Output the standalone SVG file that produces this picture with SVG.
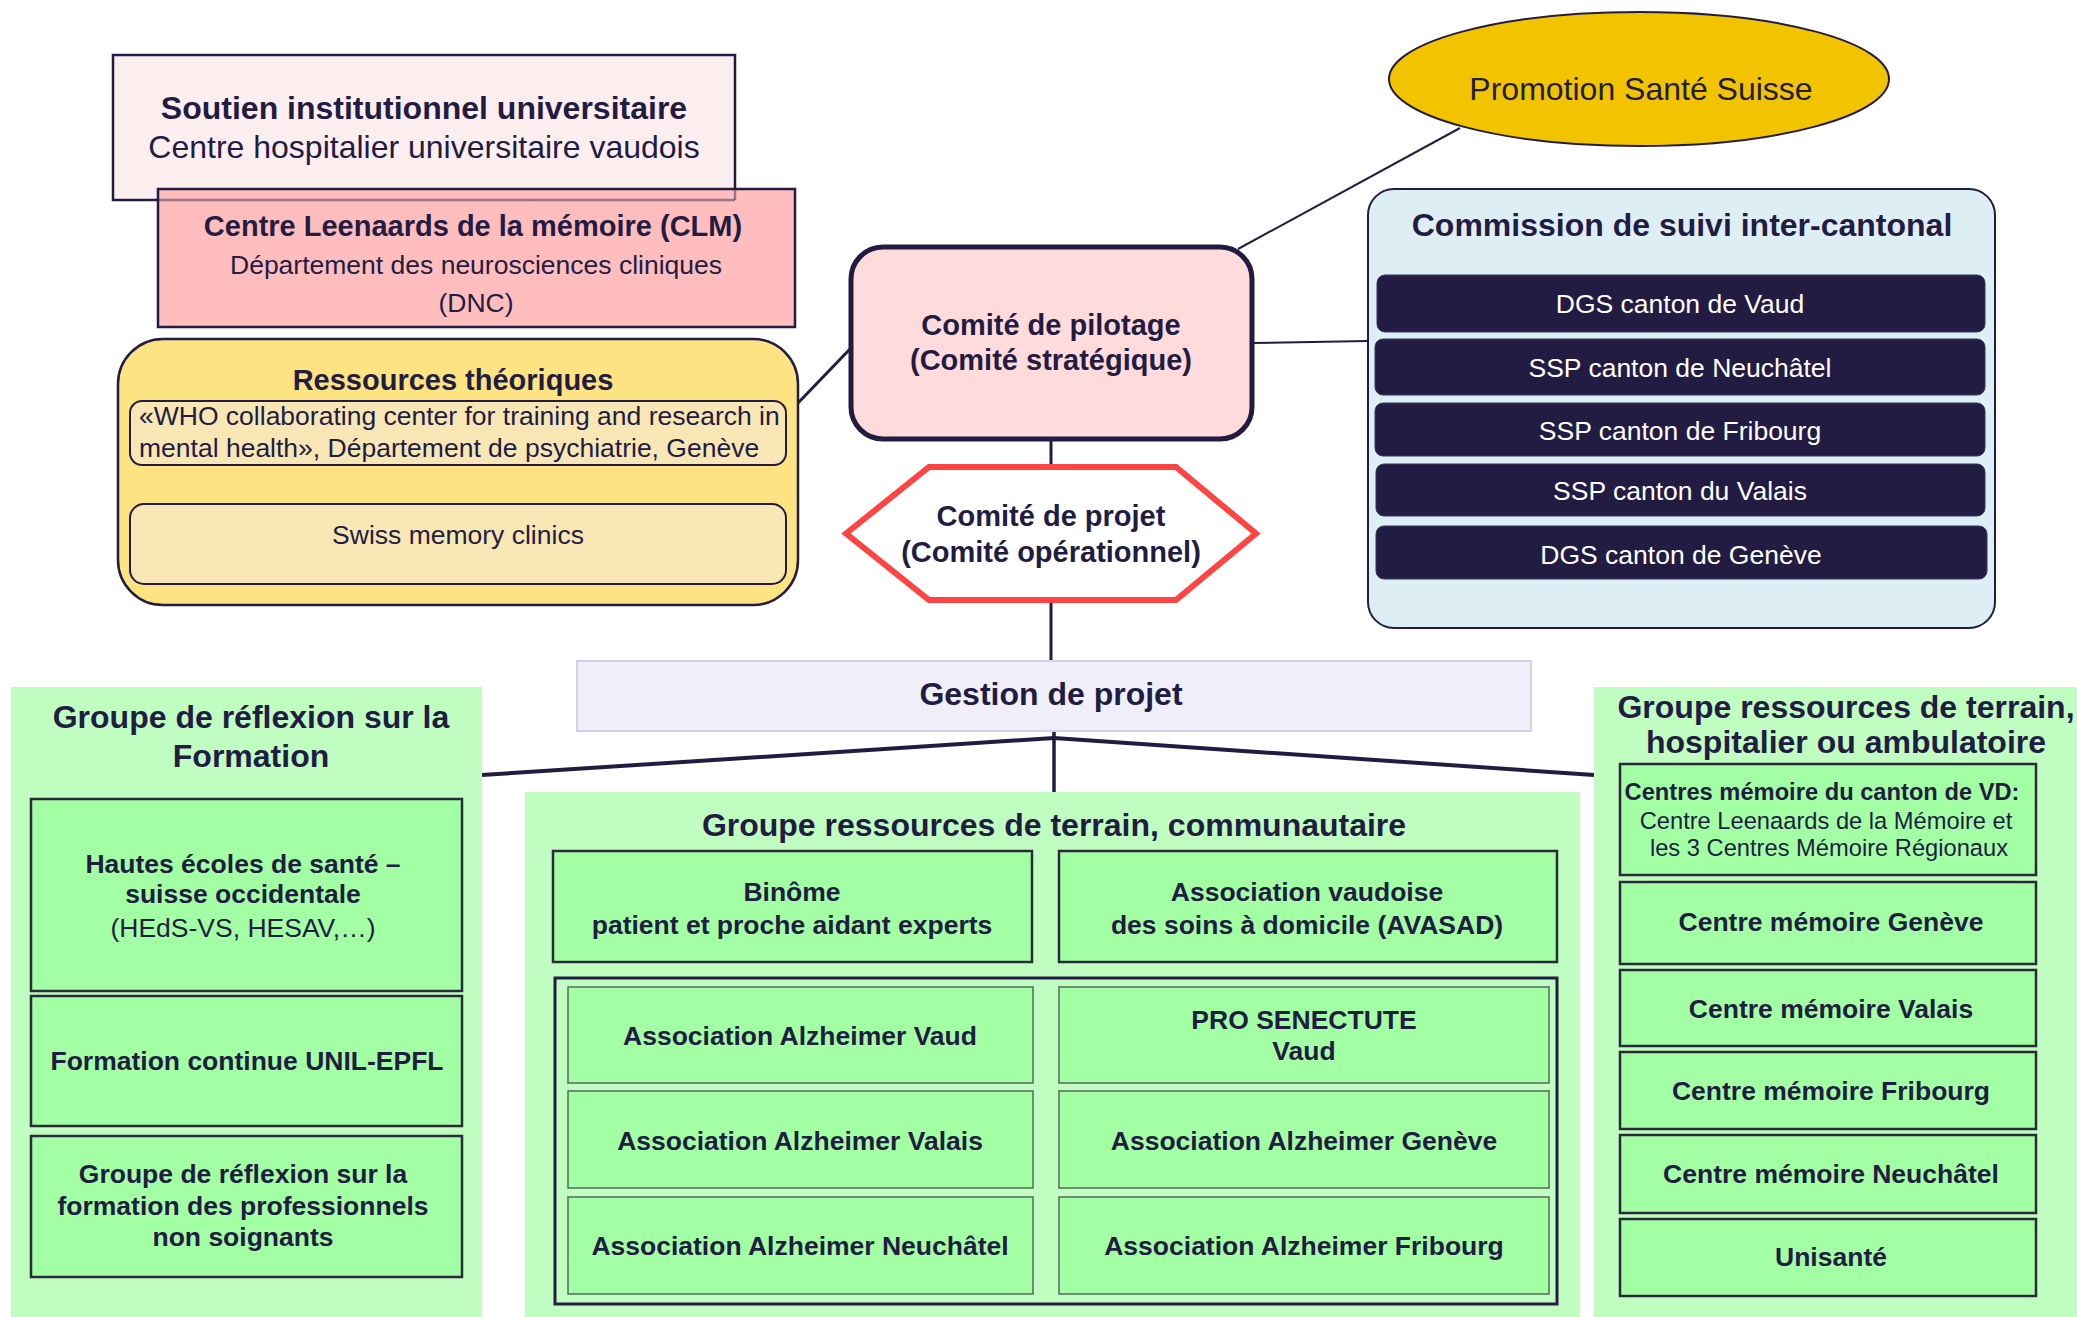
<svg xmlns="http://www.w3.org/2000/svg" width="2077" height="1317" viewBox="0 0 2077 1317">
<style>
text{font-family:"Liberation Sans",Arial,sans-serif;fill:#221C43;text-anchor:middle}
.b{font-weight:bold}
.t32{font-size:32px}
.t29{font-size:29px}
.t26{font-size:26.5px}
.t24{font-size:23.7px}
.w{fill:#ffffff}
.green{fill:#A3FFA3;stroke:#2a2a3a;stroke-width:2.5}
.cell{fill:#A3FFA3;stroke:#556a5a;stroke-width:1.5}
.row{fill:#221C43;stroke:#3a3560;stroke-width:1}
.lg{fill:#C0FDC0}
.ln{stroke:#221C43;fill:none}
</style>
<rect width="2077" height="1317" fill="#ffffff"/>
<g id="connectors">
<line class="ln" x1="1460" y1="128" x2="1238" y2="249" stroke-width="2"/>
<line class="ln" x1="1252" y1="343" x2="1368" y2="341" stroke-width="2"/>
<line class="ln" x1="850" y1="349" x2="798" y2="403" stroke-width="3"/>
<line class="ln" x1="1051" y1="439" x2="1051" y2="467" stroke-width="3"/>
<line class="ln" x1="1051" y1="600" x2="1051" y2="661" stroke-width="3"/>
<line class="ln" x1="1054" y1="731" x2="1054" y2="792" stroke-width="3.5"/>
<polyline class="ln" points="482,775 1054,738 1594,775" stroke-width="4"/>
</g>
<g id="soutien">
<rect x="113" y="55" width="622" height="145" fill="#FCEEEE" stroke="#221C43" stroke-width="2.5"/>
<text class="b t32" x="424" y="119">Soutien institutionnel universitaire</text>
<text class="t32" x="424" y="158">Centre hospitalier universitaire vaudois</text>
</g>
<g id="clm">
<rect x="158" y="189" width="637" height="138" fill="#FFBDBD" stroke="#221C43" stroke-width="2.5"/>
<line x1="159" y1="200" x2="735" y2="200" stroke="#221C43" stroke-opacity="0.45" stroke-width="2.5"/>
<line x1="735" y1="190" x2="735" y2="200" stroke="#221C43" stroke-opacity="0.45" stroke-width="2.5"/>
<text class="b t29" x="473" y="236">Centre Leenaards de la mémoire (CLM)</text>
<text class="t26" x="476" y="274">Département des neurosciences cliniques</text>
<text class="t26" x="476" y="312">(DNC)</text>
</g>
<g id="ressources">
<rect x="118" y="339" width="680" height="266" rx="45" fill="#FEE382" stroke="#221C43" stroke-width="2.5"/>
<text class="b t29" x="453" y="390">Ressources théoriques</text>
<rect x="130" y="401" width="656" height="64" rx="12" fill="#F8E7B5" stroke="#221C43" stroke-width="2"/>
<text class="t26" x="139" y="425" style="text-anchor:start">«WHO collaborating center for training and research in</text>
<text class="t26" x="139" y="457" style="text-anchor:start">mental health», Département de psychiatrie, Genève</text>
<rect id="swiss" x="130" y="504" width="656" height="80" rx="14" fill="#F8E7B5" stroke="#221C43" stroke-width="2"/>
<text class="t26" x="458" y="544">Swiss memory clinics</text>
</g>
<g id="promotion">
<ellipse cx="1639" cy="79" rx="250" ry="67" fill="#F2C400" stroke="#221C43" stroke-width="2"/>
<text class="t32" x="1641" y="100">Promotion Santé Suisse</text>
</g>
<g id="pilotage">
<rect x="851" y="247" width="401" height="192" rx="32" fill="#FFDBDB" stroke="#221C43" stroke-width="5"/>
<text class="b t29" x="1051" y="335">Comité de pilotage</text>
<text class="b t29" x="1051" y="370">(Comité stratégique)</text>
</g>
<g id="projet">
<polygon points="846,533.5 929,467 1176,467 1256,533.5 1176,600 929,600" fill="#ffffff" stroke="#FF4444" stroke-width="6"/>
<text class="b t29" x="1051" y="526">Comité de projet</text>
<text class="b t29" x="1051" y="562">(Comité opérationnel)</text>
</g>
<g id="commission">
<rect x="1368" y="189" width="627" height="439" rx="26" fill="#DEEEF5" stroke="#221C43" stroke-width="2"/>
<text class="b t32" x="1682" y="236">Commission de suivi inter-cantonal</text>
<rect class="row" x="1377" y="275" width="608" height="57" rx="8"/>
<text class="t26 w" x="1680" y="313">DGS canton de Vaud</text>
<rect class="row" x="1375" y="339" width="610" height="56" rx="8"/>
<text class="t26 w" x="1680" y="377">SSP canton de Neuchâtel</text>
<rect class="row" x="1375" y="403" width="610" height="53" rx="8"/>
<text class="t26 w" x="1680" y="440">SSP canton de Fribourg</text>
<rect class="row" x="1376" y="464" width="609" height="52" rx="8"/>
<text class="t26 w" x="1680" y="500">SSP canton du Valais</text>
<rect class="row" x="1376" y="526" width="611" height="53" rx="8"/>
<text class="t26 w" x="1681" y="564">DGS canton de Genève</text>
</g>
<g id="gestion">
<rect x="577" y="661" width="954" height="70" fill="#EFEEF9" stroke="#D3CFEA" stroke-width="2"/>
<text class="b t32" x="1051" y="705">Gestion de projet</text>
</g>
<g id="formation">
<rect class="lg" x="11" y="687" width="471" height="630"/>
<text class="b t32" x="251" y="728">Groupe de réflexion sur la</text>
<text class="b t32" x="251" y="767">Formation</text>
<rect class="green" x="31" y="799" width="431" height="192"/>
<text class="b t26" x="243" y="873">Hautes écoles de santé –</text>
<text class="b t26" x="243" y="903">suisse occidentale</text>
<text class="t26" x="243" y="937">(HEdS-VS, HESAV,…)</text>
<rect class="green" x="31" y="996" width="431" height="130"/>
<text class="b t26" x="247" y="1070">Formation continue UNIL-EPFL</text>
<rect class="green" x="31" y="1136" width="431" height="141"/>
<text class="b t26" x="243" y="1183">Groupe de réflexion sur la</text>
<text class="b t26" x="243" y="1215">formation des professionnels</text>
<text class="b t26" x="243" y="1246">non soignants</text>
</g>
<g id="communautaire">
<rect class="lg" x="525" y="792" width="1055" height="525"/>
<text class="b t32" x="1054" y="836">Groupe ressources de terrain, communautaire</text>
<rect class="green" x="553" y="851" width="479" height="111"/>
<text class="b t26" x="792" y="901">Binôme</text>
<text class="b t26" x="792" y="934">patient et proche aidant experts</text>
<rect class="green" x="1059" y="851" width="498" height="111"/>
<text class="b t26" x="1307" y="901">Association vaudoise</text>
<text class="b t26" x="1307" y="934">des soins à domicile (AVASAD)</text>
<rect x="555" y="978" width="1002" height="326" fill="#C0FDC0" stroke="#221C43" stroke-width="3"/>
<rect class="cell" x="568" y="987" width="465" height="96"/>
<text class="b t26" x="800" y="1045">Association Alzheimer Vaud</text>
<rect class="cell" x="1059" y="987" width="490" height="96"/>
<text class="b t26" x="1304" y="1029">PRO SENECTUTE</text>
<text class="b t26" x="1304" y="1060">Vaud</text>
<rect class="cell" x="568" y="1091" width="465" height="97"/>
<text class="b t26" x="800" y="1150">Association Alzheimer Valais</text>
<rect class="cell" x="1059" y="1091" width="490" height="97"/>
<text class="b t26" x="1304" y="1150">Association Alzheimer Genève</text>
<rect class="cell" x="568" y="1197" width="465" height="97"/>
<text class="b t26" x="800" y="1255">Association Alzheimer Neuchâtel</text>
<rect class="cell" x="1059" y="1197" width="490" height="97"/>
<text class="b t26" x="1304" y="1255">Association Alzheimer Fribourg</text>
</g>
<g id="hospitalier">
<rect class="lg" x="1594" y="687" width="483" height="630"/>
<text class="b t32" x="1846" y="718">Groupe ressources de terrain,</text>
<text class="b t32" x="1846" y="753">hospitalier ou ambulatoire</text>
<rect class="green" x="1620" y="764" width="416" height="111"/>
<text class="b t24" x="1822" y="800">Centres mémoire du canton de VD:</text>
<text class="t24" x="1826" y="829">Centre Leenaards de la Mémoire et</text>
<text class="t24" x="1829" y="856">les 3 Centres Mémoire Régionaux</text>
<rect class="green" x="1620" y="882" width="416" height="82"/>
<text class="b t26" x="1831" y="931">Centre mémoire Genève</text>
<rect class="green" x="1620" y="970" width="416" height="76"/>
<text class="b t26" x="1831" y="1018">Centre mémoire Valais</text>
<rect class="green" x="1620" y="1052" width="416" height="77"/>
<text class="b t26" x="1831" y="1100">Centre mémoire Fribourg</text>
<rect class="green" x="1620" y="1135" width="416" height="78"/>
<text class="b t26" x="1831" y="1183">Centre mémoire Neuchâtel</text>
<rect class="green" x="1620" y="1219" width="416" height="77"/>
<text class="b t26" x="1831" y="1266">Unisanté</text>
</g>
</svg>
